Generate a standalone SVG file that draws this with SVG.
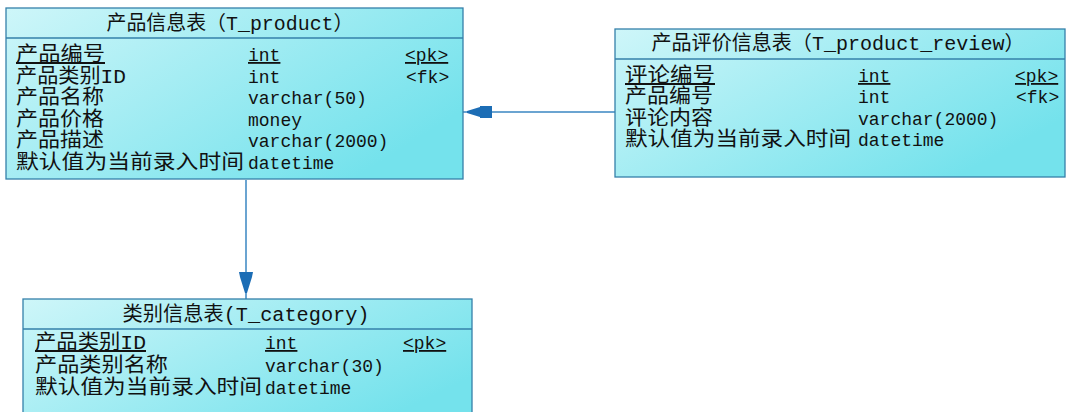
<svg xmlns="http://www.w3.org/2000/svg" width="1068" height="412" viewBox="0 0 1068 412">
<style>
.box{fill:url(#g);stroke:#3580aa;stroke-width:1.3}
.sep{stroke:#3580aa;stroke-width:1.3}
.t{font-family:"Liberation Mono","Noto Sans CJK SC",monospace;font-size:20px;fill:#111}
.m{font-family:"Liberation Mono","Noto Sans CJK SC",monospace;font-size:18px;fill:#111}
.u{text-decoration:underline}
.c{fill:none;stroke:#3a86c2;stroke-width:1.5}
.ah{fill:#1c6db5}
</style>
<defs>
<linearGradient id="g" x1="0" y1="0" x2="1" y2="0.6">
<stop offset="0" stop-color="#cef6f9"/>
<stop offset="1" stop-color="#74e2ec"/>
</linearGradient>
</defs>
<rect width="1068" height="412" fill="#fff"/>
<g id="connectors">
<line class="c" x1="246" y1="180" x2="246" y2="299"/>
<polygon class="ah" points="239,272 253,272 252,277 247,293 245,293 240,277"/>
<line class="c" x1="463" y1="112" x2="615" y2="112"/>
<polygon class="ah" points="467,111 467,113 480,117 480,118 492,118 492,106 480,106 480,107"/>
</g>
<g id="T_product">
<rect class="box" x="6" y="8" width="457" height="171"/>
<line class="sep" x1="6" y1="38" x2="463" y2="38"/>
<text class="t" x="230" y="30" text-anchor="middle" textLength="247" lengthAdjust="spacingAndGlyphs">产品信息表（T_product）</text>
<text class="t u" x="16" y="61" textLength="89" lengthAdjust="spacingAndGlyphs">产品编号</text>
<text class="t" x="16" y="82.5" textLength="110" lengthAdjust="spacingAndGlyphs">产品类别ID</text>
<text class="t" x="16" y="104" textLength="88" lengthAdjust="spacingAndGlyphs">产品名称</text>
<text class="t" x="16" y="125.5" textLength="88" lengthAdjust="spacingAndGlyphs">产品价格</text>
<text class="t" x="16" y="147" textLength="88" lengthAdjust="spacingAndGlyphs">产品描述</text>
<text class="t" x="16" y="168.5" textLength="228" lengthAdjust="spacingAndGlyphs">默认值为当前录入时间</text>
<text class="m u" x="248" y="61">int</text>
<text class="m" x="248" y="82.5">int</text>
<text class="m" x="248" y="104">varchar(50)</text>
<text class="m" x="248" y="125.5">money</text>
<text class="m" x="248" y="147">varchar(2000)</text>
<text class="m" x="248" y="168.5">datetime</text>
<text class="m u" x="405" y="61">&lt;pk&gt;</text>
<text class="m" x="406" y="82.5">&lt;fk&gt;</text>
</g>
<g id="T_product_review">
<rect class="box" x="615" y="29" width="450" height="148"/>
<line class="sep" x1="615" y1="59" x2="1065" y2="59"/>
<text class="t" x="838" y="50" text-anchor="middle" textLength="373" lengthAdjust="spacingAndGlyphs">产品评价信息表（T_product_review）</text>
<text class="t u" x="625" y="82" textLength="90" lengthAdjust="spacingAndGlyphs">评论编号</text>
<text class="t" x="625" y="103.3" textLength="88" lengthAdjust="spacingAndGlyphs">产品编号</text>
<text class="t" x="625" y="124.6" textLength="88" lengthAdjust="spacingAndGlyphs">评论内容</text>
<text class="t" x="625" y="146" textLength="226" lengthAdjust="spacingAndGlyphs">默认值为当前录入时间</text>
<text class="m u" x="858" y="82">int</text>
<text class="m" x="858" y="103.3">int</text>
<text class="m" x="858" y="124.6">varchar(2000)</text>
<text class="m" x="858" y="146">datetime</text>
<text class="m u" x="1015" y="82">&lt;pk&gt;</text>
<text class="m" x="1016" y="103.3">&lt;fk&gt;</text>
</g>
<g id="T_category">
<rect class="box" x="23" y="299" width="449" height="130"/>
<line class="sep" x1="23" y1="329" x2="472" y2="329"/>
<text class="t" x="246" y="321" text-anchor="middle" textLength="247" lengthAdjust="spacingAndGlyphs">类别信息表(T_category)</text>
<text class="t u" x="35" y="349" textLength="111" lengthAdjust="spacingAndGlyphs">产品类别ID</text>
<text class="t" x="35" y="371.5" textLength="133" lengthAdjust="spacingAndGlyphs">产品类别名称</text>
<text class="t" x="35" y="394" textLength="227" lengthAdjust="spacingAndGlyphs">默认值为当前录入时间</text>
<text class="m u" x="265" y="349">int</text>
<text class="m" x="265" y="371.5">varchar(30)</text>
<text class="m" x="265" y="394">datetime</text>
<text class="m u" x="403" y="349">&lt;pk&gt;</text>
</g>
</svg>
